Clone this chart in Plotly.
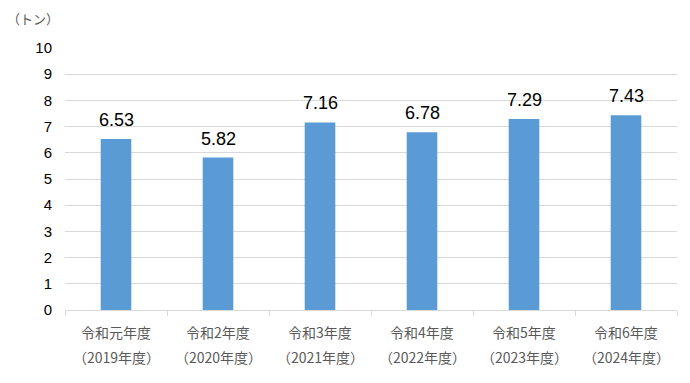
import plotly.graph_objects as go

categories = ["令和元年度", "令和2年度", "令和3年度", "令和4年度", "令和5年度", "令和6年度"]
sub_labels = ["（2019年度）", "（2020年度）", "（2021年度）", "（2022年度）", "（2023年度）", "（2024年度）"]
values = [6.53, 5.82, 7.16, 6.78, 7.29, 7.43]
y_ticks = list(range(0, 11))
unit_label = "（トン）"

JP = "Noto Sans CJK JP, Meiryo, sans-serif"
NUM = "Liberation Sans, Arial, sans-serif"

fig = go.Figure()
fig.add_trace(go.Bar(
    x=categories, y=values, width=0.3,
    marker=dict(color="#5B9BD5", line=dict(width=0)),
    hoverinfo="x+y",
))

annotations = [dict(text=unit_label, x=-0.052, y=1.114, xref="paper", yref="paper",
                    showarrow=False, xanchor="center", yanchor="middle",
                    font=dict(size=13, color="#595959", family=JP))]
for c, v in zip(categories, values):
    annotations.append(dict(text=f"{v:.2f}", x=c, y=v, xref="x", yref="y", yshift=7,
                            showarrow=False, xanchor="center", yanchor="bottom",
                            font=dict(size=18, color="#000000", family=NUM)))
for c, s in zip(categories, sub_labels):
    annotations.append(dict(text=c, x=c, y=0, xref="x", yref="paper", yshift=-22,
                            showarrow=False, xanchor="center", yanchor="middle",
                            font=dict(size=14, color="#595959", family=JP)))
    annotations.append(dict(text=s, x=c, y=0, xref="x", yref="paper", yshift=-47,
                            showarrow=False, xanchor="center", yanchor="middle",
                            font=dict(size=14, color="#595959", family=JP)))

# The page body has an 8px margin, so the figure is offset by (8, 8).
fig.update_layout(
    width=674, height=367,
    margin=dict(l=57, r=5, t=40, b=65),
    plot_bgcolor="white", paper_bgcolor="white",
    showlegend=False,
    annotations=annotations,
    xaxis=dict(type="category", showticklabels=False, ticks="outside", tickson="boundaries",
               ticklen=5, tickcolor="#d9d9d9", showline=True, linecolor="#d9d9d9",
               showgrid=False, range=[-0.5, 5.5], automargin=False),
    yaxis=dict(range=[0, 10], tickvals=y_ticks, ticktext=[str(t) for t in y_ticks],
               showgrid=True, gridcolor="#d9d9d9", gridwidth=1, zeroline=False,
               showline=False, ticks="", ticklabelstandoff=12, automargin=False,
               tickfont=dict(size=15, color="#000000", family=NUM)),
)

fig.write_html("out.html")
